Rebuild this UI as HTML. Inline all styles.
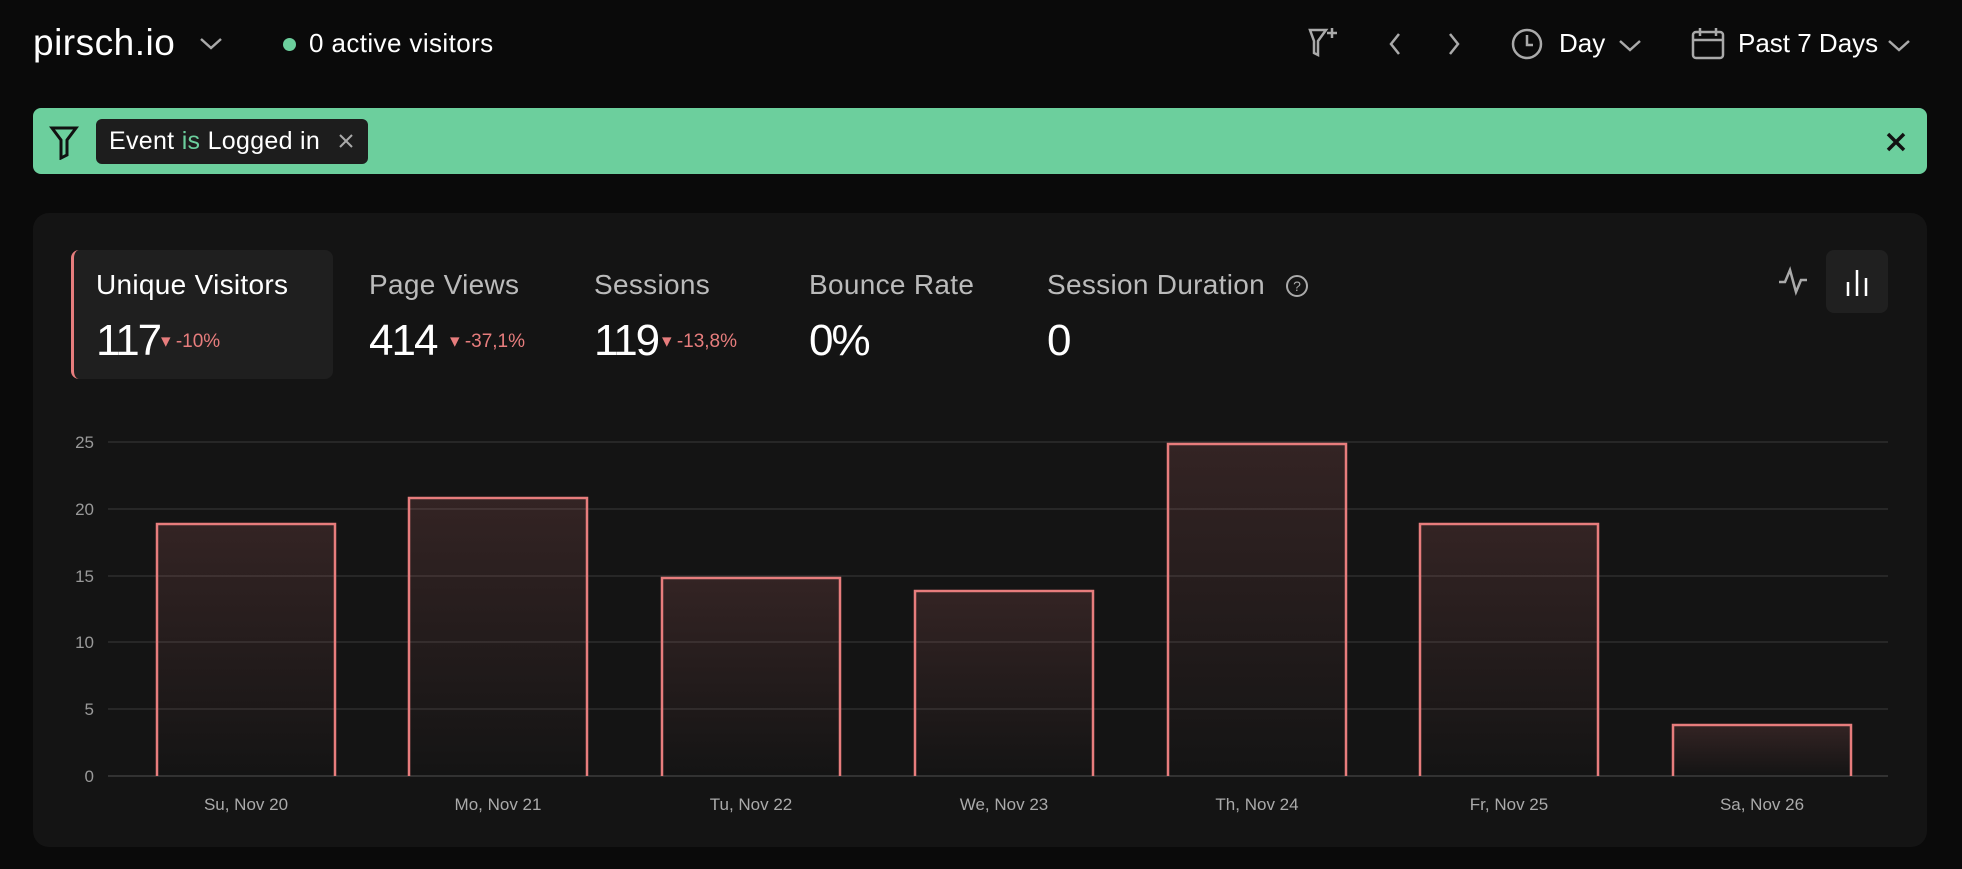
<!DOCTYPE html>
<html><head><meta charset="utf-8"><style>
*{margin:0;padding:0;box-sizing:border-box}
body{width:1962px;height:869px;background:#0a0a0a;font-family:"Liberation Sans",sans-serif;color:#fff;position:relative;overflow:hidden}
.a{position:absolute;white-space:nowrap}
.t{font-size:28px;letter-spacing:0.3px}
.v{font-size:44px;letter-spacing:-2px}
.d{font-size:19px;color:#e77d7d}
</style></head><body>
<div class="a" style="left:33px;top:22px;font-size:37px;letter-spacing:0.5px">pirsch.io</div>
<svg class="a" style="left:198px;top:36px" width="26" height="16"><path d="M3 3l10 9 10-9" stroke="#aaa" stroke-width="2.5" fill="none"/></svg>
<div class="a" style="left:283px;top:38px;width:13px;height:13px;border-radius:50%;background:#6ccf9d"></div>
<div class="a" style="left:309px;top:28px;font-size:26px;letter-spacing:0.4px">0 active visitors</div>

<svg class="a" style="left:1300px;top:24px" width="650" height="40" fill="none" stroke="#aaa" stroke-width="2.5">
<path d="M10 6h16l-8 11v14l-4-2V17z"/><path d="M32 4v10M27 9h10"/>
<path d="M99 10l-8 10 8 10"/><path d="M150 10l8 10-8 10"/>
<circle cx="227" cy="20" r="14"/><path d="M227 11v10h6"/>
<path d="M320 17l10 9 10-9"/>
<rect x="393" y="8" width="30" height="26" rx="3"/><path d="M393 16h30M400 4v8M416 4v8"/>
<path d="M589 17l10 9 10-9"/>
</svg>
<div class="a" style="left:1559px;top:28px;font-size:26px;">Day</div>
<div class="a" style="left:1738px;top:28px;font-size:26px;">Past 7 Days</div>

<div class="a" style="left:33px;top:108px;width:1894px;height:66px;background:#6ccf9d;border-radius:8px"></div>
<svg class="a" style="left:48px;top:124px" width="32" height="36" fill="none" stroke="#111" stroke-width="3"><path d="M4 4h24L19 16v15l-6 3V16z"/></svg>
<div class="a" style="left:96px;top:119px;width:272px;height:45px;background:#1d1d1d;border-radius:6px"></div>
<div class="a" style="left:109px;top:127px;font-size:25px;letter-spacing:0.3px">Event <span style="color:#6ccf9d">is</span> Logged in</div>
<svg class="a" style="left:338px;top:133px" width="16" height="16" stroke="#aaa" stroke-width="2"><path d="M2 2l12 12M14 2L2 14"/></svg>
<svg class="a" style="left:1885px;top:131px" width="22" height="22" stroke="#111" stroke-width="3.5"><path d="M3 3l16 16M19 3L3 19"/></svg>

<div class="a" style="left:33px;top:213px;width:1894px;height:634px;background:#141414;border-radius:16px"></div>
<div class="a" style="left:71px;top:250px;width:262px;height:129px;background:#1f1f1f;border-radius:8px;border-left:3px solid #e77d7d"></div>
<div class="a t" style="left:96px;top:269px;">Unique Visitors</div>
<div class="a v" style="left:96px;top:316px;">117</div>
<div class="a d" style="left:161px;top:330px;">▾ -10%</div>
<div class="a t" style="left:369px;top:269px;color:#bbb">Page Views</div>
<div class="a v" style="left:369px;top:316px;">414</div>
<div class="a d" style="left:450px;top:330px;">▾ -37,1%</div>
<div class="a t" style="left:594px;top:269px;color:#bbb">Sessions</div>
<div class="a v" style="left:594px;top:316px;">119</div>
<div class="a d" style="left:662px;top:330px;">▾ -13,8%</div>
<div class="a t" style="left:809px;top:269px;color:#bbb">Bounce Rate</div>
<div class="a v" style="left:809px;top:316px;">0%</div>
<div class="a t" style="left:1047px;top:269px;color:#bbb">Session Duration</div>
<svg class="a" style="left:1285px;top:274px" width="24" height="24"><circle cx="12" cy="12" r="10" fill="none" stroke="#aaa" stroke-width="2"/><text x="12" y="17" font-size="14" fill="#aaa" text-anchor="middle" font-family="Liberation Sans">?</text></svg>
<div class="a v" style="left:1047px;top:316px;">0</div>
<div class="a" style="left:1826px;top:250px;width:62px;height:63px;background:#202020;border-radius:8px"></div>
<svg class="a" style="left:1776px;top:262px" width="110" height="40" fill="none" stroke-width="2.5"><path d="M3 20h6l5-12 6 22 5-12h6" stroke="#aaa"/><path d="M72 20v14M81 8v26M90 16v18" stroke="#fff"/></svg>

<svg class="a" style="left:0;top:0" width="1962" height="869" font-family="Liberation Sans">
<defs><linearGradient id="g" x1="0" y1="0" x2="0" y2="1"><stop offset="0" stop-color="#e77d7d" stop-opacity="0.15"/><stop offset="1" stop-color="#e77d7d" stop-opacity="0"/></linearGradient></defs>
<g stroke="#333" stroke-width="1.3">
<line x1="108" x2="1888" y1="442" y2="442"/><line x1="108" x2="1888" y1="509" y2="509"/><line x1="108" x2="1888" y1="576" y2="576"/><line x1="108" x2="1888" y1="642" y2="642"/><line x1="108" x2="1888" y1="709" y2="709"/><line x1="108" x2="1888" y1="776" y2="776" stroke="#444"/>
</g>
<g fill="#999" font-size="17" text-anchor="end">
<text x="94" y="448">25</text><text x="94" y="515">20</text><text x="94" y="582">15</text><text x="94" y="648">10</text><text x="94" y="715">5</text><text x="94" y="782">0</text>
</g>
<g fill="url(#g)" stroke="#e77d7d" stroke-width="2.5">
<path d="M157 776V524h178v252"/>
<path d="M409 776V498h178v278"/>
<path d="M662 776V578h178v198"/>
<path d="M915 776V591h178v185"/>
<path d="M1168 776V444h178v332"/>
<path d="M1420 776V524h178v252"/>
<path d="M1673 776V725h178v51"/>
</g>
<g fill="#aaa" font-size="17" text-anchor="middle">
<text x="246" y="810">Su, Nov 20</text><text x="498" y="810">Mo, Nov 21</text><text x="751" y="810">Tu, Nov 22</text><text x="1004" y="810">We, Nov 23</text><text x="1257" y="810">Th, Nov 24</text><text x="1509" y="810">Fr, Nov 25</text><text x="1762" y="810">Sa, Nov 26</text>
</g>
</svg>
</body></html>
